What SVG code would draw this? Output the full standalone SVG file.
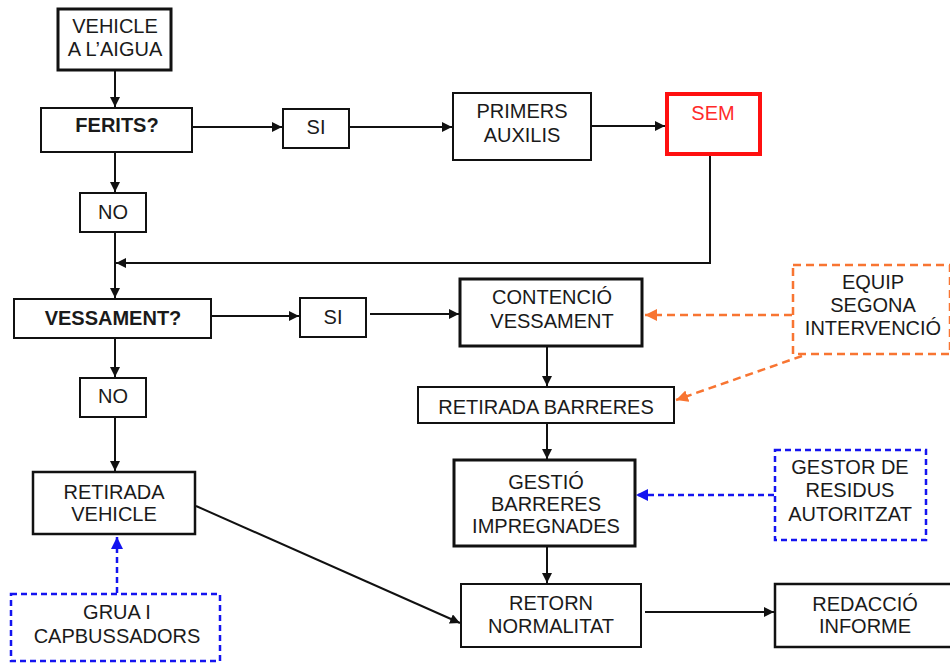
<svg xmlns="http://www.w3.org/2000/svg" width="950" height="664" viewBox="0 0 950 664">
<style>
  .box{fill:#fff;stroke:#111;stroke-width:2}
  .thick{stroke-width:3}
  .mid{stroke-width:2.5}
  .sem{fill:#fff;stroke:#ff1010;stroke-width:4}
  .obox{fill:#fff;stroke:#f87532;stroke-width:2.5;stroke-dasharray:8 5}
  .bbox{fill:#fff;stroke:#1414f0;stroke-width:2.5;stroke-dasharray:6 4}
  text{font-family:"Liberation Sans",Arial,Helvetica,sans-serif;font-size:20px;fill:#1a1a1a;text-anchor:middle}
  .b{font-weight:bold}
  .red{fill:#ff2a2a}
  .c{fill:none;stroke:#111;stroke-width:2}
  .co{fill:none;stroke:#f87532;stroke-width:2.5;stroke-dasharray:8 5}
  .cb{fill:none;stroke:#1414f0;stroke-width:2.5;stroke-dasharray:6 4}
</style>
<defs>
  <marker id="ak" markerUnits="userSpaceOnUse" markerWidth="11" markerHeight="11" refX="10" refY="5" orient="auto"><path d="M0,0 L10,5 L0,10 z" fill="#111"/></marker>
  <marker id="ao" markerUnits="userSpaceOnUse" markerWidth="13" markerHeight="13" refX="12" refY="6" orient="auto"><path d="M0,0 L12,6 L0,12 z" fill="#f87532"/></marker>
  <marker id="ab" markerUnits="userSpaceOnUse" markerWidth="13" markerHeight="13" refX="12" refY="6" orient="auto"><path d="M0,0 L12,6 L0,12 z" fill="#1414f0"/></marker>
</defs>
<rect width="950" height="664" fill="#fff"/>
<g id="connectors">
  <line class="c" x1="115" y1="71" x2="115" y2="107" marker-end="url(#ak)"/>
  <line class="c" x1="193" y1="127" x2="282" y2="127" marker-end="url(#ak)"/>
  <line class="c" x1="350" y1="127" x2="452" y2="127" marker-end="url(#ak)"/>
  <line class="c" x1="592" y1="126" x2="665" y2="126" marker-end="url(#ak)"/>
  <line class="c" x1="115" y1="153" x2="115" y2="192" marker-end="url(#ak)"/>
  <line class="c" x1="115" y1="233" x2="115" y2="298" marker-end="url(#ak)"/>
  <path class="c" d="M710,156 V263 H116" marker-end="url(#ak)"/>
  <line class="c" x1="212" y1="316" x2="299" y2="316" marker-end="url(#ak)"/>
  <line class="c" x1="370" y1="314" x2="459" y2="314" marker-end="url(#ak)"/>
  <line class="c" x1="115" y1="339" x2="115" y2="377" marker-end="url(#ak)"/>
  <line class="c" x1="115" y1="418" x2="115" y2="471" marker-end="url(#ak)"/>
  <line class="c" x1="547" y1="347" x2="547" y2="386" marker-end="url(#ak)"/>
  <line class="c" x1="547" y1="423" x2="547" y2="459" marker-end="url(#ak)"/>
  <line class="c" x1="547" y1="547" x2="547" y2="583" marker-end="url(#ak)"/>
  <line class="c" x1="196" y1="506" x2="460" y2="623" marker-end="url(#ak)"/>
  <line class="c" x1="645" y1="612" x2="774" y2="612" marker-end="url(#ak)"/>
  <line class="co" x1="792" y1="315" x2="645" y2="315" marker-end="url(#ao)"/>
  <line class="co" x1="802" y1="356" x2="676" y2="400" marker-end="url(#ao)"/>
  <line class="cb" x1="774" y1="495" x2="636" y2="495" marker-end="url(#ab)"/>
  <line class="cb" x1="117" y1="593" x2="117" y2="537" marker-end="url(#ab)"/>
</g>
<g id="vehicle-aigua"><rect class="box thick" x="58" y="9" width="113" height="61"/><text x="115" y="33">VEHICLE</text><text x="115" y="56">A L’AIGUA</text></g>
<g id="ferits"><rect class="box" x="41" y="108" width="151" height="44"/><text class="b" x="117" y="132">FERITS?</text></g>
<g id="si1"><rect class="box" x="283" y="109" width="66" height="39"/><text x="316" y="134">SI</text></g>
<g id="primers-auxilis"><rect class="box" x="453" y="93" width="138" height="67"/><text x="522" y="118">PRIMERS</text><text x="522" y="142">AUXILIS</text></g>
<g id="sem"><rect class="sem" x="667" y="94" width="93" height="60"/><text class="red" x="713" y="120">SEM</text></g>
<g id="no1"><rect class="box" x="80" y="193" width="66" height="39"/><text x="113" y="219">NO</text></g>
<g id="vessament"><rect class="box" x="14" y="299" width="197" height="39"/><text class="b" x="113" y="325">VESSAMENT?</text></g>
<g id="si2"><rect class="box" x="300" y="298" width="66" height="39"/><text x="333" y="324">SI</text></g>
<g id="contencio"><rect class="box thick" x="460" y="279" width="182" height="67"/><text x="552" y="304">CONTENCIÓ</text><text x="552" y="328">VESSAMENT</text></g>
<g id="equip"><rect class="obox" x="793" y="265" width="157" height="89"/><text x="873" y="289">EQUIP</text><text x="873" y="312">SEGONA</text><text x="873" y="335">INTERVENCIÓ</text></g>
<g id="no2"><rect class="box" x="80" y="378" width="66" height="39"/><text x="113" y="403">NO</text></g>
<g id="retirada-barreres"><rect class="box" x="418" y="387" width="256" height="36"/><text x="546" y="414">RETIRADA BARRERES</text></g>
<g id="retirada-vehicle"><rect class="box mid" x="33" y="472" width="162" height="62"/><text x="114" y="499">RETIRADA</text><text x="114" y="521">VEHICLE</text></g>
<g id="gestio"><rect class="box thick" x="454" y="460" width="181" height="86"/><text x="546" y="489">GESTIÓ</text><text x="546" y="511">BARRERES</text><text x="546" y="533">IMPREGNADES</text></g>
<g id="gestor"><rect class="bbox" x="775" y="450" width="151" height="90"/><text x="850" y="474">GESTOR DE</text><text x="850" y="497">RESIDUS</text><text x="850" y="521">AUTORITZAT</text></g>
<g id="grua"><rect class="bbox" x="11" y="594" width="209" height="67"/><text x="117" y="619">GRUA I</text><text x="117" y="643">CAPBUSSADORS</text></g>
<g id="retorn"><rect class="box" x="461" y="584" width="180" height="63"/><text x="551" y="610">RETORN</text><text x="551" y="633">NORMALITAT</text></g>
<g id="redaccio"><rect class="box mid" x="775" y="584" width="182" height="63"/><text x="865" y="611">REDACCIÓ</text><text x="865" y="633">INFORME</text></g>
</svg>
